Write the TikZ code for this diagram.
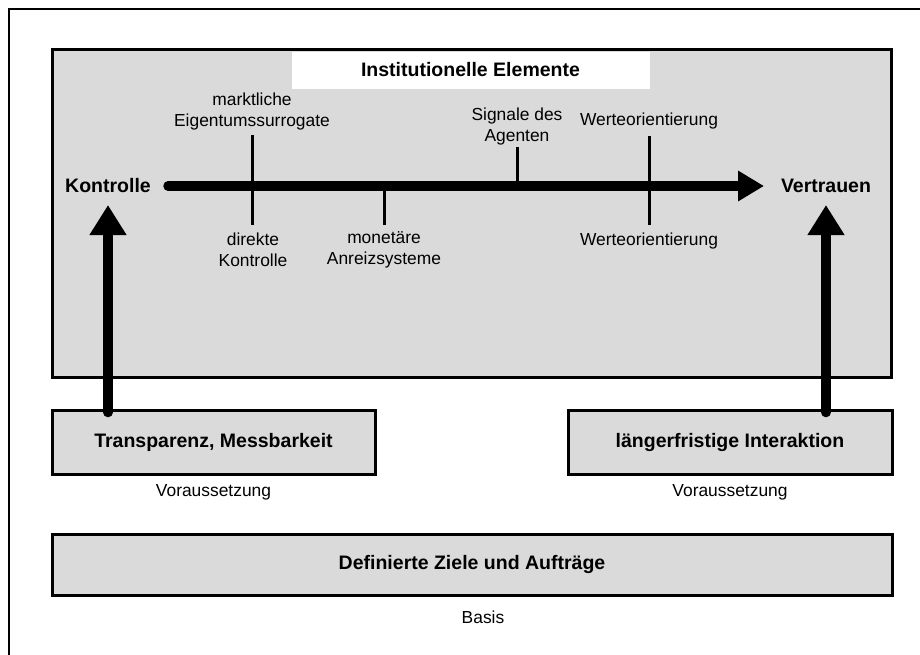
\documentclass[tikz,border=0pt]{standalone}
\usepackage{fontspec}
\setmainfont{Liberation Sans}
\usetikzlibrary{arrows.meta, positioning}
\definecolor{boxgrey}{RGB}{218,218,218}

\begin{document}
\begin{tikzpicture}[x=1pt, y=-1pt, node distance=8pt,
	box/.style={draw, line width=3pt, fill=boxgrey, inner sep=0pt, font=\bfseries\fontsize{19.5}{23}\selectfont},
	lbl/.style={align=center, inner sep=1pt, font=\fontsize{17.4}{21}\selectfont},
	pole/.style={inner sep=1pt, font=\bfseries\fontsize{19.5}{23}\selectfont},
	tickline/.style={line width=3pt},
	axis/.style={line width=9.5pt, line cap=round, -{Triangle[length=26pt,width=29pt]}},
	lift/.style={line width=9.5pt, line cap=round, -{Triangle[length=30pt,width=35pt]}}]
			\useasboundingbox (0,0) rectangle (920,654);
			\draw[line width=2.5pt] (9,670) -- (9,9) -- (940,9);

			% upper field
			\node[box, minimum width=839pt, minimum height=328pt] (inst) at (471.5,213) {};
			\node[fill=white, minimum width=358pt, minimum height=37pt, inner sep=0pt] (titlebg) at (470.5,70.5) {};
			\node[pole] (title) at (470.5,70) {Institutionelle Elemente};

			\node[pole] (kontrolle) at (108,186) {Kontrolle};
			\node[pole] (vertrauen) at (826,186) {Vertrauen};

			% lower boxes
			\node[box, minimum width=323pt, minimum height=64pt] (transp) at (213.5,442) {Transparenz, Messbarkeit};
			\node[box, minimum width=324pt, minimum height=64pt] (interakt) at (730,442) {längerfristige Interaktion};
			\node[box, minimum width=840pt, minimum height=61pt] (ziele) at (472,564.5) {Definierte Ziele und Aufträge};
			\node[lbl] (vorL) [below=of transp] {Voraussetzung};
			\node[lbl] (vorR) [below=of interakt] {Voraussetzung};
			\node[lbl] (basis) [below=13pt of ziele, xshift=11pt] {Basis};

			% axis and ticks
			\coordinate (axL) at (168,186);
			\coordinate (axR) at (764,186);
			\coordinate (t1a) at (252,135);
			\coordinate (t1b) at (252,225);
			\coordinate (t2a) at (384,186);
			\coordinate (t2b) at (384,225);
			\coordinate (t3a) at (517,147);
			\coordinate (t3b) at (517,186);
			\coordinate (t4a) at (649,136);
			\coordinate (t4b) at (649,225);
			\coordinate (upL) at (108,205);
			\coordinate (upR) at (826,205);

			\node[lbl] (markt) at (252,111) {marktliche\\Eigentumssurrogate};
			\node[lbl] (direkt) at (253,250) {direkte\\Kontrolle};
			\node[lbl] (monet) at (384,250) {monetäre\\Anreizsysteme};
			\node[lbl] (signal) at (517,126) {Signale des\\Agenten};
			\node[lbl] (werteO) at (649,121) {Werteorientierung};
			\node[lbl] (werteU) at (649,241) {Werteorientierung};

			\path[tickline]
			(t1a) edge (t1b)
			(t2a) edge (t2b)
			(t3a) edge (t3b)
			(t4a) edge (t4b)
			;
			\draw[axis] (axL) -- (axR);
			\draw[lift] ([yshift=-4pt]transp.north -| upL) -- (upL);
			\draw[lift] ([yshift=-4pt]interakt.north -| upR) -- (upR);
		\end{tikzpicture}
\end{document}
